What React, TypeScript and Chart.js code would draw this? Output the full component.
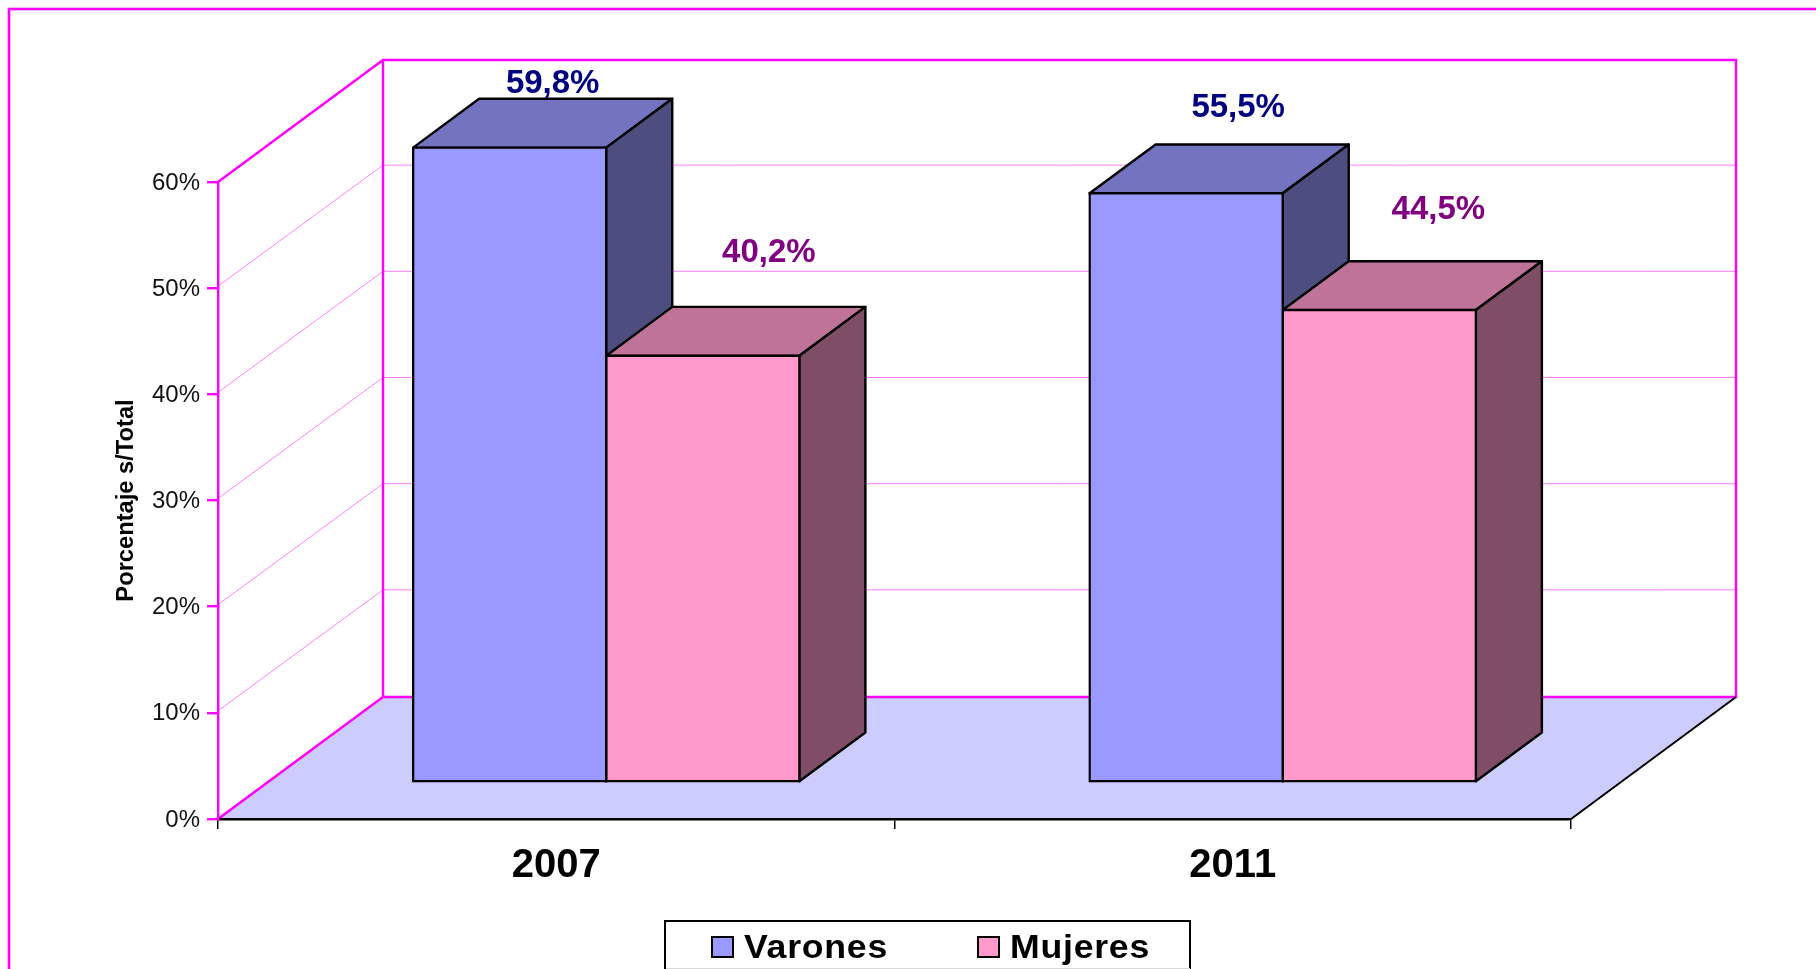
import React, { useEffect, useRef } from "react";
import { Chart, registerables } from "chart.js";

Chart.register(...registerables);

const categories = ["2007", "2011"];
const varones = [59.8, 55.5];
const mujeres = [40.2, 44.5];
const yTicksMax = 60;
const yTicksStep = 10;

const seriesNames = ["Varones", "Mujeres"];
const frontColors = ["#9999FF", "#FF99CC"];
const topColors = ["#7373BF", "#BF7399"];
const sideColors = ["#4D4D80", "#804D66"];
const labelColors = ["#000080", "#800080"];
const labelNudges = [
  [[43, -64], [52, -85]],
  [[66, -103], [59, -100]],
];

const DEPTH_X = 165;
const DEPTH_Y = 122;
const BAR_START = 0.303;
const BAR_DEPTH = 0.4;
const MAGENTA = "#FF00FF";
const OUTLINE = 2.4;
const FONT = '"Liberation Sans", Arial, sans-serif';
const SHIFT_X = DEPTH_X * BAR_START;
const SHIFT_Y = -36.5;

const scene3d = {
  id: "scene3d",
  beforeDraw(chart: any) {
    const { ctx, chartArea: a, width, height } = chart;
    ctx.save();
    ctx.fillStyle = "#FFFFFF";
    ctx.fillRect(0, 0, width, height);

    ctx.strokeStyle = MAGENTA;
    ctx.lineWidth = 2.6;
    ctx.strokeRect(9, 9, width + 20, height + 20);

    // floor
    ctx.fillStyle = "#CCCCFF";
    ctx.beginPath();
    ctx.moveTo(a.left, a.bottom);
    ctx.lineTo(a.left + DEPTH_X, a.bottom - DEPTH_Y);
    ctx.lineTo(a.right + DEPTH_X, a.bottom - DEPTH_Y);
    ctx.lineTo(a.right, a.bottom);
    ctx.closePath();
    ctx.fill();

    // gridlines over both walls
    const yScale = chart.scales.y;
    ctx.strokeStyle = "rgba(255,0,255,0.5)";
    ctx.lineWidth = 1;
    yScale.ticks.forEach((t: any) => {
      if (t.value === 0 || t.value === yTicksMax) return;
      const y = yScale.getPixelForValue(t.value);
      ctx.beginPath();
      ctx.moveTo(a.left, y - 2);
      ctx.lineTo(a.left + DEPTH_X, y - DEPTH_Y - 1);
      ctx.lineTo(a.right + DEPTH_X, y - DEPTH_Y - 1);
      ctx.stroke();
    });

    // wall outlines
    ctx.strokeStyle = MAGENTA;
    ctx.lineWidth = OUTLINE;
    ctx.beginPath();
    ctx.moveTo(a.left, a.top);
    ctx.lineTo(a.left + DEPTH_X, a.top - DEPTH_Y);
    ctx.lineTo(a.right + DEPTH_X, a.top - DEPTH_Y);
    ctx.lineTo(a.right + DEPTH_X, a.bottom - DEPTH_Y);
    ctx.lineTo(a.left + DEPTH_X, a.bottom - DEPTH_Y);
    ctx.lineTo(a.left, a.bottom);
    ctx.moveTo(a.left + DEPTH_X, a.top - DEPTH_Y);
    ctx.lineTo(a.left + DEPTH_X, a.bottom - DEPTH_Y);
    ctx.stroke();

    ctx.strokeStyle = "#000000";
    ctx.lineWidth = 2;
    ctx.beginPath();
    ctx.moveTo(a.right, a.bottom);
    ctx.lineTo(a.right + DEPTH_X, a.bottom - DEPTH_Y);
    ctx.stroke();
    ctx.restore();
  },
  beforeDatasetsDraw(chart: any) {
    // side and top faces, back to front: first series, then second
    const { ctx } = chart;
    const dx = DEPTH_X * BAR_DEPTH;
    const dy = -DEPTH_Y * BAR_DEPTH;
    ctx.save();
    ctx.translate(SHIFT_X, SHIFT_Y);
    ctx.strokeStyle = "#000000";
    ctx.lineWidth = OUTLINE;
    ctx.lineJoin = "round";
    chart.data.datasets.forEach((_: any, i: number) => {
      chart.getDatasetMeta(i).data.forEach((bar: any) => {
        const { x, y, base, width } = bar.getProps(["x", "y", "base", "width"], true);
        const l = x - width / 2;
        const r = x + width / 2;
        ctx.fillStyle = topColors[i];
        ctx.beginPath();
        ctx.moveTo(l, y);
        ctx.lineTo(l + dx, y + dy);
        ctx.lineTo(r + dx, y + dy);
        ctx.lineTo(r, y);
        ctx.closePath();
        ctx.fill();
        ctx.stroke();
        ctx.fillStyle = sideColors[i];
        ctx.beginPath();
        ctx.moveTo(r, y);
        ctx.lineTo(r + dx, y + dy);
        ctx.lineTo(r + dx, base + dy);
        ctx.lineTo(r, base);
        ctx.closePath();
        ctx.fill();
        ctx.stroke();
      });
    });
    ctx.restore();
  },
  beforeDatasetDraw(chart: any) {
    // the library's own bars are the front faces, set forward on the floor
    chart.ctx.save();
    chart.ctx.translate(SHIFT_X, SHIFT_Y);
  },
  afterDatasetDraw(chart: any) {
    chart.ctx.restore();
  },
  afterDraw(chart: any) {
    const { ctx } = chart;
    ctx.save();
    ctx.textAlign = "center";
    ctx.textBaseline = "middle";
    ctx.font = `bold 33px ${FONT}`;
    chart.data.datasets.forEach((ds: any, i: number) => {
      const meta = chart.getDatasetMeta(i);
      ds.data.forEach((v: number, j: number) => {
        const bar = meta.data[j];
        const text = v.toFixed(1).replace(".", ",") + "%";
        ctx.fillStyle = labelColors[i];
        ctx.fillText(text, bar.x + SHIFT_X + labelNudges[i][j][0], bar.y + SHIFT_Y + labelNudges[i][j][1]);
      });
    });

    // legend
    ctx.fillStyle = "#FFFFFF";
    ctx.strokeStyle = "#000000";
    ctx.lineWidth = 2;
    ctx.fillRect(665, 921, 525, 60);
    ctx.strokeRect(665, 921, 525, 60);
    ctx.fillStyle = "#D9D9D9";
    ctx.fillRect(666, 968, 524, 1);
    ctx.textAlign = "left";
    const swatchX = [712, 978];
    const textX = [744, 1010];
    const STRETCH = 1.08;
    chart.data.datasets.forEach((ds: any, i: number) => {
      ctx.fillStyle = ds.backgroundColor;
      ctx.fillRect(swatchX[i], 937, 21, 20);
      ctx.strokeRect(swatchX[i], 937, 21, 20);
      ctx.save();
      ctx.font = `bold 33px ${FONT}`;
      (ctx as any).letterSpacing = "0.7px";
      ctx.fillStyle = "#000000";
      ctx.scale(STRETCH, 1);
      ctx.fillText(ds.label, textX[i] / STRETCH, 949);
      ctx.restore();
    });
    ctx.restore();
  },
};

export default function App() {
  const ref = useRef<HTMLCanvasElement>(null);
  useEffect(() => {
    document.body.style.margin = "0";
    const chart = new Chart(ref.current as HTMLCanvasElement, {
      type: "bar",
      data: {
        labels: categories,
        datasets: [
          { label: seriesNames[0], data: varones, backgroundColor: frontColors[0] },
          { label: seriesNames[1], data: mujeres, backgroundColor: frontColors[1] },
        ].map((d) => ({
          ...d,
          borderColor: "#000000",
          borderWidth: OUTLINE,
          borderSkipped: false,
          inflateAmount: OUTLINE / 2,
          clip: false,
          categoryPercentage: 0.571,
          barPercentage: 1,
        })) as any,
      },
      options: {
        animation: false,
        responsive: false,
        events: [],
        layout: { padding: { left: 112, right: 245, top: 182, bottom: 0 } },
        plugins: { legend: { display: false }, tooltip: { enabled: false } },
        scales: {
          x: {
            offset: true,
            afterFit: (s: any) => { s.height = 150; },
            grid: { drawOnChartArea: false, color: "#000000", lineWidth: 1.5, tickLength: 10, offset: true },
            border: { color: "#000000", width: 2.4 },
            ticks: { color: "#000000", font: { family: FONT, size: 40, weight: "bold" }, padding: 13, maxRotation: 0 },
          },
          y: {
            min: 0,
            max: yTicksMax,
            afterFit: (s: any) => { s.width = 106; },
            grid: { drawOnChartArea: false, color: MAGENTA, lineWidth: 2.4, tickLength: 11 },
            border: { color: MAGENTA, width: 2.4 },
            ticks: {
              stepSize: yTicksStep,
              color: "#111111",
              font: { family: FONT, size: 24 },
              padding: 7,
              labelOffset: 1,
              callback: (v: any) => `${v}%`,
            },
            title: {
              display: true,
              text: "Porcentaje s/Total",
              color: "#000000",
              font: { family: FONT, size: 23.7, weight: "bold" },
              padding: 0,
            },
          },
        },
      } as any,
      plugins: [scene3d],
    });
    return () => chart.destroy();
  }, []);
  return (
    <div style={{ position: "absolute", left: 0, top: 0, width: 1816, height: 969, overflow: "hidden" }}>
      <canvas ref={ref} width={1816} height={969} style={{ display: "block", width: 1816, height: 969 }} />
    </div>
  );
}
